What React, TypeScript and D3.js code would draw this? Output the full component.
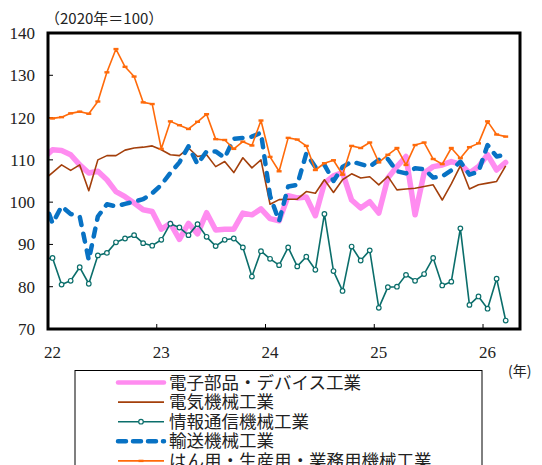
import React from 'react';
import * as d3 from 'd3';

// months from Dec 2021 (index -1) to Mar 2026 (index 50)
const firstIndex = -1;
const yearTicks = [22, 23, 24, 25, 26];
const yTicks = [70, 80, 90, 100, 110, 120, 130, 140];

const electronic = [110.4, 112.4, 112.2, 111.2, 108.8, 106.9, 107.3, 105.3, 102.5, 101.3, 99.8, 98.2, 97.8, 93.6, 95.0, 91.2, 95.0, 92.5, 97.5, 93.4, 93.6, 93.6, 97.4, 97.0, 98.4, 96.1, 95.6, 101.5, 101.0, 101.2, 96.8, 104.5, 106.2, 107.0, 100.5, 98.6, 100.1, 97.4, 105.7, 108.4, 110.8, 97.0, 106.9, 108.4, 108.8, 109.6, 109.0, 106.9, 108.4, 111.2, 107.6, 109.4];
const electrical = [105.2, 107.0, 108.8, 107.5, 108.8, 102.7, 110.0, 111.0, 111.0, 112.3, 112.8, 113.0, 113.3, 112.4, 111.2, 111.0, 112.8, 110.8, 111.2, 108.4, 109.6, 107.0, 110.5, 108.1, 110.0, 99.5, 100.6, 100.7, 100.7, 102.5, 102.1, 105.3, 102.3, 105.3, 106.7, 105.7, 106.0, 104.1, 106.1, 102.9, 103.1, 103.3, 103.7, 104.1, 100.5, 104.3, 108.6, 103.1, 104.1, 104.5, 104.9, 108.6];
const infoComm = [86.5, 86.8, 80.5, 81.4, 84.6, 80.7, 87.4, 88.0, 90.5, 91.4, 92.2, 90.3, 89.7, 91.1, 94.9, 94.0, 92.2, 94.8, 91.8, 89.6, 91.1, 91.4, 89.3, 82.4, 88.4, 86.6, 85.1, 89.3, 84.8, 87.1, 84.0, 97.2, 83.7, 79.0, 89.5, 86.2, 88.6, 75.0, 79.9, 80.0, 82.8, 81.4, 83.0, 86.8, 80.3, 81.2, 93.8, 75.7, 77.7, 74.8, 81.9, 72.0];
const transport = [101.0, 95.0, 99.0, 97.2, 96.6, 86.3, 96.6, 99.5, 99.0, 99.6, 100.1, 100.7, 102.1, 104.1, 106.9, 109.4, 113.2, 109.0, 112.0, 112.0, 110.5, 115.0, 115.2, 115.5, 116.4, 101.5, 95.5, 103.7, 104.1, 111.5, 108.3, 108.8, 105.0, 108.3, 109.6, 109.0, 108.4, 110.0, 110.2, 107.3, 106.8, 108.0, 107.8, 105.8, 106.1, 107.5, 109.6, 106.5, 107.2, 113.5, 110.8, 111.2];
const general = [120.0, 119.8, 120.1, 121.0, 121.4, 120.9, 123.8, 130.7, 136.2, 132.0, 129.7, 123.6, 123.2, 112.6, 119.1, 118.2, 117.3, 119.0, 120.8, 114.9, 114.7, 112.6, 114.3, 113.4, 119.3, 110.7, 107.3, 115.2, 114.8, 113.3, 107.6, 109.2, 109.9, 106.5, 113.3, 112.8, 114.1, 109.4, 111.2, 112.8, 108.8, 113.5, 114.1, 110.2, 109.0, 112.8, 110.4, 113.0, 113.9, 119.1, 116.0, 115.5];

const seriesNames = ['電子部品・デバイス工業', '電気機械工業', '情報通信機械工業', '輸送機械工業', 'はん用・生産用・業務用機械工業'];

const W = 542, H = 465;
const L = 48, R = 520, T = 33, B = 329;
const serif = '"Liberation Serif", "DejaVu Serif", serif';
const cjk = '"Noto Sans CJK JP", sans-serif';

export default function App() {
  const x = d3.scaleLinear().domain([22, 26.34]).range([L, R]);
  const y = d3.scaleLinear().domain([70, 140]).range([B, T]);
  const mx = (i: number) => x(22 + (i + firstIndex + 0.5) / 12);
  const line = d3.line<number>().x((_, i) => mx(i)).y((d) => y(d));

  const styles = [
    { data: electronic, color: '#FF8CF0', width: 5.5, dash: undefined as string | undefined, cap: 'round', marker: 'none' },
    { data: electrical, color: '#A33F0B', width: 1.6, dash: undefined, cap: 'butt', marker: 'none' },
    { data: infoComm, color: '#0B6E6B', width: 1.6, dash: undefined, cap: 'butt', marker: 'circle' },
    { data: transport, color: '#0872C4', width: 4.5, dash: '8 9', cap: 'round', marker: 'none' },
    { data: general, color: '#FF6A0A', width: 1.6, dash: undefined, cap: 'butt', marker: 'bar' },
  ];

  const legendX = 75, legendY = 370.5, legendW = 407, rowH = 19.6;

  return (
    <svg width={W} height={H} style={{ position: 'absolute', left: 0, top: 0, background: '#fff' }}>
      <defs>
        <clipPath id="plot">
          <rect x={L} y={T} width={R - L} height={B - T} />
        </clipPath>
      </defs>
      <rect x={0} y={0} width={W} height={H} fill="#fff" />
      <text x={45} y={24} fontFamily={cjk} fontSize={15} fill="#222">（2020年＝100）</text>
      {yTicks.map((t) => (
        <text key={t} x={35} y={y(t) + 6} textAnchor="end" fontFamily={serif} fontSize={17} fill="#222">{t}</text>
      ))}
      {yTicks.filter((t) => t > 70 && t < 140).map((t) => (
        <line key={'yt' + t} x1={L} x2={L + 5} y1={y(t)} y2={y(t)} stroke="#000" strokeWidth={1} />
      ))}
      {yearTicks.filter((t) => t > 22).map((t) => (
        <line key={'xt' + t} x1={x(t)} x2={x(t)} y1={B} y2={B - 5} stroke="#000" strokeWidth={1} />
      ))}
      {yearTicks.map((t) => (
        <text key={'xl' + t} x={x(t + 0.5 / 12)} y={358} textAnchor="middle" fontFamily={serif} fontSize={17} fill="#222">{t}</text>
      ))}
      <text x={508} y={376} fontFamily={cjk} fontSize={14} fill="#222">(年)</text>
      <g clipPath="url(#plot)">
        {styles.map((s, k) => (
          <g key={k}>
            <path d={line(s.data) || ''} fill="none" stroke={s.color} strokeWidth={s.width}
              strokeDasharray={s.dash} strokeLinecap={s.cap as any} strokeLinejoin="round" />
            {s.marker === 'circle' && s.data.map((d, i) => (
              <circle key={i} cx={mx(i)} cy={y(d)} r={2.3} fill="#fff" stroke={s.color} strokeWidth={1.2} />
            ))}
            {s.marker === 'bar' && s.data.map((d, i) => (
              <rect key={i} x={mx(i) - 2.5} y={y(d) - 1.2} width={5} height={2.4} fill={s.color} />
            ))}
          </g>
        ))}
      </g>
      <rect x={L} y={T} width={R - L} height={B - T} fill="none" stroke="#000" strokeWidth={3} />
      <rect x={legendX} y={legendY} width={legendW} height={120} fill="#fff" stroke="#000" strokeWidth={1} />
      {styles.map((s, k) => {
        const cy = legendY + 12 + k * rowH;
        return (
          <g key={'lg' + k}>
            <line x1={118} x2={164} y1={cy} y2={cy} stroke={s.color}
              strokeWidth={k === 0 ? 4.5 : s.width} strokeDasharray={s.dash ? '8 7' : undefined}
              strokeLinecap={s.cap as any} />
            {s.marker === 'circle' && <circle cx={141} cy={cy} r={2.3} fill="#fff" stroke={s.color} strokeWidth={1.2} />}
            {s.marker === 'bar' && <rect x={138.5} y={cy - 1.2} width={5} height={2.4} fill={s.color} />}
            <text x={169} y={cy + 6} fontFamily={cjk} fontSize={17.5} fill="#222">{seriesNames[k]}</text>
          </g>
        );
      })}
    </svg>
  );
}
